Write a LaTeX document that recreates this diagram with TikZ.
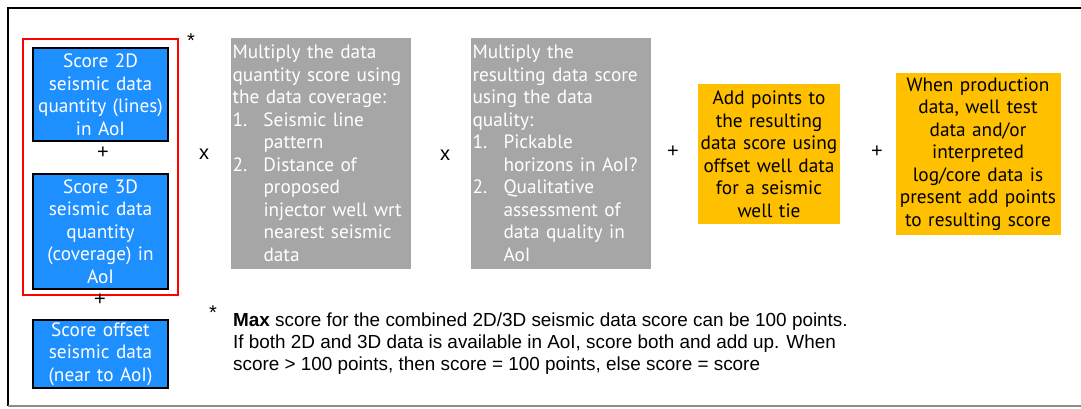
\documentclass[tikz,border=0pt]{standalone}
\usepackage{fontspec}
\setmainfont{PT Sans}
\newfontfamily\notefont{Liberation Sans}
\definecolor{seisblue}{RGB}{30,143,255}
\definecolor{panelgray}{RGB}{166,166,166}
\definecolor{amber}{RGB}{255,192,0}
\definecolor{framegray}{RGB}{140,140,140}
\newcommand{\itm}[1]{\makebox[31pt][l]{#1}}
\newcommand{\cnt}{\hspace*{31pt}}
\begin{document}
\begin{tikzpicture}[x=1pt,y=-1pt,
  boxfont/.style={font=\fontsize{19.3}{22.5}\selectfont},
  bluebox/.style={draw=black, line width=1.5pt, fill=seisblue, text=white,
    inner sep=1pt, align=center, boxfont},
  graybox/.style={fill=panelgray, text=white, inner sep=1.5pt, text width=177pt,
    minimum height=231pt, align=left, boxfont},
  amberbox/.style={fill=amber, text=black, inner sep=1pt, align=center, boxfont},
  groupframe/.style={draw=red, line width=1.8pt, inner sep=0pt},
  op/.style={font=\notefont\fontsize{20}{22}\selectfont, inner sep=0pt}
]
\useasboundingbox (0,0) rectangle (1081,408);

% outer frame
\draw[black, line width=1.6pt] (1082,8) -- (8,8) -- (8,406);
\draw[framegray, line width=1.2pt] (8,406) -- (1082,406);

% seismic data quantity group
\node[groupframe, minimum width=155pt, minimum height=256pt] (grp) at (100.5,167) {};
\node[bluebox, minimum width=135pt, minimum height=93pt, text width=133pt] (s2d) at (100.5,94.5)
  {Score 2D\\seismic data\\quantity (lines)\\in AoI};
\node[bluebox, minimum width=135pt, minimum height=115pt, text width=133pt] (s3d) at (100.5,231.5)
  {Score 3D\\seismic data\\quantity\\(coverage) in\\AoI};
\node[bluebox, minimum width=135pt, minimum height=68pt, text width=133pt] (soff) at (100.5,354)
  {Score offset\\seismic data\\(near to AoI)};

% multiplication panels
\node[graybox] (cov) at (321,153.5)
  {Multiply the data\\quantity score using\\the data coverage:\\
   \itm{1.}Seismic line\\\cnt pattern\\
   \itm{2.}Distance of\\\cnt proposed\\\cnt injector well wrt\\\cnt nearest seismic\\\cnt data};
\node[graybox] (qual) at (561,153.5)
  {Multiply the\\resulting data score\\using the data\\quality:\\
   \itm{1.}Pickable\\\cnt horizons in AoI?\\
   \itm{2.}Qualitative\\\cnt assessment of\\\cnt data quality in\\\cnt AoI};

% additional points
\node[amberbox, minimum width=142pt, minimum height=140pt, text width=140pt] (tie) at (769,154)
  {Add points to\\the resulting\\data score using\\offset well data\\for a seismic\\well tie};
\node[amberbox, minimum width=165pt, minimum height=162pt, text width=163pt] (prod) at (978,154)
  {When production\\data, well test\\data and/or\\interpreted\\log/core data is\\present add points\\to resulting score};

% operators
\node[op] (plusA) at (103,153) {+};
\node[op] (plusB) at (100,300) {+};
\node[op] (timesA) at (204,154) {x};
\node[op] (timesB) at (445,155) {x};
\node[op] (plusC) at (673,152) {+};
\node[op] (plusD) at (877,152) {+};
\node[op] (starA) at (191,41) {*};

% footnote
\node[op] (starB) at (213,313) {*};
\node[anchor=north west, inner sep=0pt, align=left,
      font=\notefont\fontsize{18.9}{22}\selectfont] (note) at (233,313)
  {\textbf{Max} score for the combined 2D/3D seismic data score can be 100 points.\\
   If both 2D and 3D data is available in AoI, score both and add up. When\\
   score > 100 points, then score = 100 points, else score = score};
\end{tikzpicture}
\end{document}
